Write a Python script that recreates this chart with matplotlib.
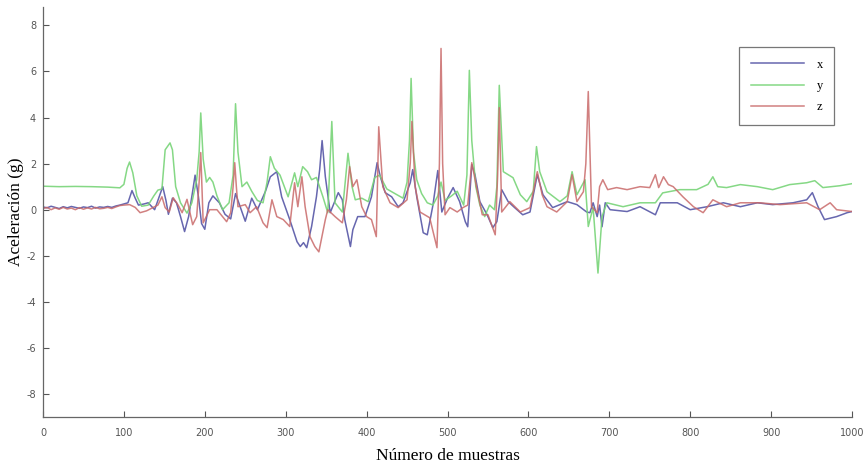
import matplotlib
matplotlib.use("Agg")
import matplotlib.pyplot as plt

plt.rcParams["axes.unicode_minus"] = False

# ---- data ----
x_idx = [0,5,10,15,20,25,30,35,40,45,50,55,60,65,70,75,80,85,90,95,100,105,110,114,118,125,130,138,143,148,152,155,160,165,170,175,180,185,188,192,196,200,205,210,218,225,232,238,243,250,258,265,275,281,289,295,305,314,318,322,326,332,338,342,345,349,355,358,365,370,373,380,383,389,398,406,413,417,423,431,439,445,454,457,462,470,475,482,488,493,500,507,515,522,525,530,534,540,549,556,561,567,575,583,593,602,611,618,630,648,660,672,676,680,685,688,691,695,701,722,738,757,763,784,800,821,841,862,883,902,927,944,951,958,966,981,994,1000]
x_val = [0.12,0.08,0.15,0.1,0.05,0.13,0.08,0.14,0.1,0.06,0.12,0.09,0.15,0.07,0.12,0.1,0.14,0.1,0.16,0.2,0.25,0.3,0.83,0.5,0.2,0.25,0.3,0.0,0.5,1.0,0.4,-0.2,0.5,0.3,-0.3,-0.95,-0.3,0.8,1.5,0.6,-0.6,-0.85,0.3,0.6,0.3,-0.2,-0.4,0.7,0.2,-0.5,0.5,0.0,0.8,1.43,1.65,0.56,-0.43,-1.39,-1.6,-1.43,-1.65,-0.73,0.56,1.74,3.0,1.43,-0.13,0.13,0.74,0.43,-0.43,-1.6,-0.87,-0.3,-0.3,0.56,2.04,1.43,0.74,0.56,0.13,0.3,1.17,1.74,0.56,-1.0,-1.09,0.2,1.7,-0.1,0.5,0.96,0.35,-0.52,-0.74,1.96,1.52,0.35,-0.22,-0.78,-0.52,0.87,0.35,0.09,-0.22,-0.1,1.52,0.65,0.09,0.35,0.22,-0.1,-0.13,0.3,-0.3,0.2,-0.74,0.3,0.0,-0.08,0.13,-0.22,0.3,0.3,0.0,0.13,0.3,0.13,0.3,0.22,0.3,0.43,0.74,0.13,-0.43,-0.3,-0.13,-0.08]

y_idx = [0,20,40,60,80,95,100,104,107,111,116,122,130,137,142,147,151,157,160,164,170,178,184,190,193,195,198,202,206,210,215,222,230,235,238,241,246,252,258,265,272,277,281,286,293,303,311,315,321,327,332,338,346,352,357,361,370,377,382,386,394,402,410,416,425,435,445,450,453,455,458,462,468,475,482,488,492,497,505,512,520,524,527,530,535,540,546,552,558,561,564,569,581,590,598,606,610,614,623,639,648,654,660,670,674,680,686,691,697,717,738,757,766,787,808,822,828,834,845,862,883,902,923,944,954,964,985,1000]
y_val = [1.02,1.0,1.01,1.0,0.98,0.95,1.1,1.8,2.07,1.6,0.6,0.15,0.2,0.6,0.85,0.9,2.6,2.9,2.6,1.0,0.3,-0.15,0.3,1.3,2.5,4.2,2.2,1.2,1.4,1.2,0.6,0.0,0.3,1.5,4.6,2.5,1.0,1.2,0.8,0.4,0.3,1.2,2.3,1.8,1.5,0.56,1.6,1.0,1.87,1.65,1.3,1.4,0.56,-0.13,3.83,0.3,-0.1,2.45,1.0,0.43,0.5,0.35,1.4,1.5,0.9,0.7,0.5,1.2,3.0,5.7,2.5,1.3,0.7,0.3,0.2,0.6,1.2,0.4,0.6,0.8,0.2,1.5,6.05,3.0,1.0,0.2,-0.3,0.2,0.0,1.0,5.4,1.65,1.39,0.65,0.35,0.8,2.74,1.65,0.78,0.35,0.6,1.65,0.65,1.3,-0.73,0.1,-2.75,-0.3,0.3,0.13,0.3,0.3,0.73,0.87,0.87,1.1,1.43,1.0,0.96,1.09,1.0,0.87,1.09,1.17,1.26,0.96,1.04,1.13]

z_idx = [0,5,10,15,20,25,30,35,40,45,50,55,60,65,70,75,80,85,90,95,100,107,114,120,128,136,142,147,151,156,161,167,172,178,185,190,193,195,198,206,215,227,232,235,237,239,241,250,256,264,272,277,283,289,297,305,311,315,320,324,330,336,341,349,352,361,370,375,379,383,388,394,400,406,412,415,420,429,439,450,454,456,460,466,478,487,490,492,494,497,503,512,519,525,530,536,543,550,559,562,564,567,577,590,602,611,617,623,635,648,654,660,668,671,674,678,685,688,692,698,709,722,738,750,757,761,767,773,779,791,804,816,828,845,862,886,911,944,960,973,981,1000]
z_val = [0.05,0.1,0.0,0.08,0.02,0.1,0.03,0.07,0.0,0.09,0.02,0.08,0.03,0.1,0.04,0.06,0.1,0.05,0.12,0.18,0.2,0.22,0.1,-0.13,-0.05,0.09,0.2,0.56,0.09,-0.1,0.52,0.2,-0.13,0.45,-0.65,-0.3,1.2,2.48,-0.57,0.0,0.0,-0.52,-0.13,1.0,2.04,1.0,0.13,0.22,-0.13,0.13,-0.57,-0.78,0.43,-0.3,-0.43,-0.73,1.17,0.13,1.43,0.13,-1.17,-1.6,-1.83,-0.43,0.0,-0.3,-0.57,0.43,1.87,1.0,1.3,0.13,-0.3,-0.43,-1.17,3.6,1.0,0.3,0.09,0.43,2.04,3.83,1.0,-0.1,-0.35,-1.65,2.0,7.0,2.0,-0.22,0.09,-0.1,0.09,0.2,2.04,0.96,-0.22,-0.22,-1.09,1.5,4.43,-0.1,0.35,-0.1,0.09,1.65,0.65,0.13,-0.1,0.35,1.52,0.35,0.78,2.0,5.13,0.13,-0.13,1.0,1.3,0.87,0.96,0.87,1.0,0.96,1.52,0.96,1.43,1.09,1.0,0.56,0.13,-0.13,0.43,0.13,0.3,0.3,0.22,0.3,0.0,0.3,0.0,-0.08]

series_labels = ["x", "y", "z"]
x_ticks = [0, 100, 200, 300, 400, 500, 600, 700, 800, 900, 1000]
y_ticks = [-8, -6, -4, -2, 0, 2, 4, 6, 8]

# ---- figure ----
fig = plt.figure(figsize=(8.63, 4.68), dpi=100)
ax = fig.add_axes([43/863, 51/468, 809/863, 410/468])

colors = ["#5656a6", "#78d478", "#c96a6a"]
ax.plot(x_idx, x_val, color=colors[0], lw=1.1, alpha=0.9, label=series_labels[0])
ax.plot(y_idx, y_val, color=colors[1], lw=1.1, alpha=0.9, label=series_labels[1])
ax.plot(z_idx, z_val, color=colors[2], lw=1.1, alpha=0.85, label=series_labels[2])

ax.set_xlim(0, 1000)
ax.set_ylim(-9, 8.8)
ax.set_xticks(x_ticks)
ax.set_yticks(y_ticks)
ax.tick_params(direction="in", length=4, width=0.8, colors="#555555",
               labelsize=7, labelcolor="#555555")
ax.tick_params(axis="x", pad=8)
ax.tick_params(axis="y", pad=5)
for s in ["top", "right"]:
    ax.spines[s].set_visible(False)
for s in ["left", "bottom"]:
    ax.spines[s].set_color("#666666")
    ax.spines[s].set_linewidth(0.9)

ax.set_xlabel("Número de muestras", family="Liberation Serif", fontsize=12.5, labelpad=7)
ax.set_ylabel("Aceleración (g)", family="Liberation Serif", fontsize=12.5, labelpad=2)

leg = ax.legend(loc="upper right", bbox_to_anchor=(0.986, 0.917), frameon=True,
                fancybox=False, handlelength=4.3, handletextpad=1.0,
                labelspacing=0.75, borderpad=0.9,
                prop={"family": "Liberation Serif", "size": 9})
leg.get_frame().set_edgecolor("#555555")
leg.get_frame().set_linewidth(0.9)

fig.savefig("out.png", dpi=100)
